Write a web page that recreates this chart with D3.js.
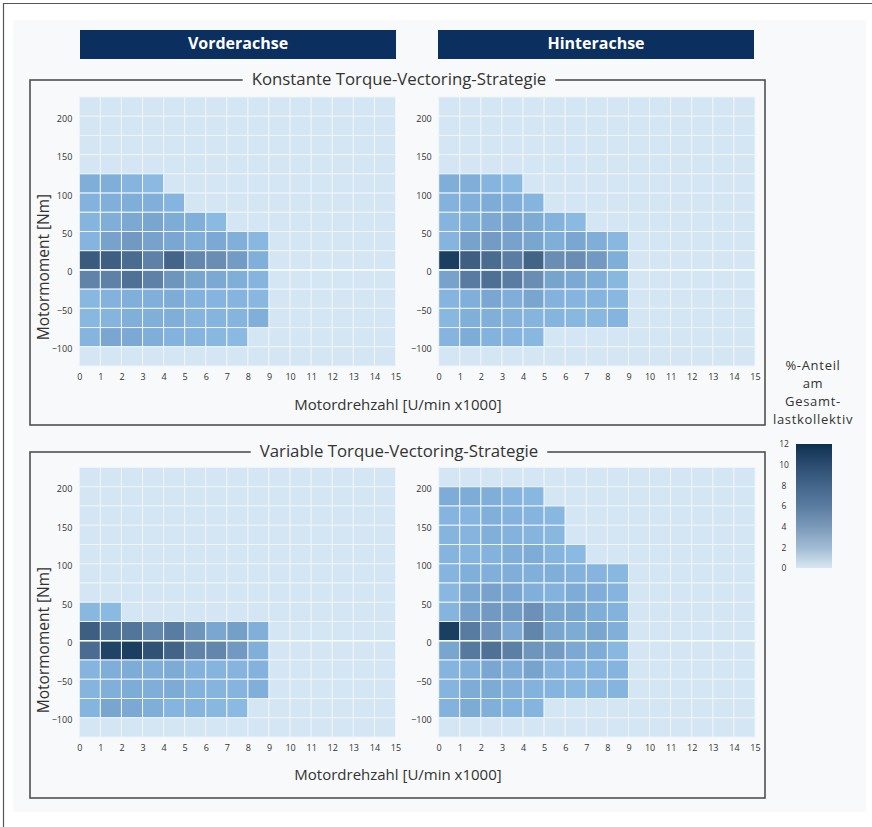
<!DOCTYPE html>
<html><head><meta charset="utf-8">
<script src="https://cdn.jsdelivr.net/npm/d3@7"></script>
<style>
html,body{margin:0;padding:0;background:#fff;}
svg{display:block;}
text{font-family:"Open Sans",sans-serif;}
</style></head>
<body>
<script>
// ---- Data ----
const rpmBins = d3.range(0, 15);              // lower edges of speed bins [x1000 U/min]
const torqueRows = d3.range(200, -150, -25);  // lower edges of torque bins [Nm], top to bottom
const xTicks = d3.range(0, 16);
const yTicks = [-100, -50, 0, 50, 100, 150, 200];
const legendTicks = [0, 2, 4, 6, 8, 10, 12];
const columnTitles = ["Vorderachse", "Hinterachse"];
const groupTitles = ["Konstante Torque-Vectoring-Strategie", "Variable Torque-Vectoring-Strategie"];
const legendTitle = ["%-Anteil", "am", "Gesamt-", "lastkollektiv"];

// % share per cell; each row starts at rpm bin 0, missing cells = 0
const konstantVorne = [
  [], [], [], [],
  [0.9, 0.9, 0.6, 0.4],
  [0.7, 0.8, 0.9, 0.8, 0.6],
  [0.6, 0.9, 1.2, 1.4, 1.0, 0.8, 0.4],
  [0.6, 1.6, 2.2, 1.6, 1.3, 0.9, 1.2, 0.8, 0.5],
  [8.0, 7.5, 6.0, 4.0, 6.8, 3.5, 3.0, 2.0, 0.8],
  [3.8, 4.0, 5.5, 4.0, 2.5, 1.4, 1.2, 0.9, 0.6],
  [0.5, 0.7, 0.8, 0.8, 1.0, 0.7, 0.6, 0.6, 0.5],
  [0.5, 0.6, 0.8, 0.8, 0.9, 0.6, 0.6, 0.6, 0.8],
  [0.6, 1.3, 1.2, 0.9, 0.7, 0.6, 0.5, 0.4],
  []
];
const konstantHinten = [
  [], [], [], [],
  [0.9, 0.9, 0.6, 0.4],
  [0.7, 0.8, 1.0, 0.8, 0.6],
  [0.6, 0.9, 1.2, 1.4, 1.1, 0.7, 0.4],
  [0.6, 1.6, 2.0, 1.6, 1.4, 0.9, 1.3, 0.9, 0.5],
  [11.0, 7.5, 6.0, 4.3, 7.0, 3.0, 3.0, 2.2, 0.9],
  [1.6, 4.5, 5.6, 4.4, 3.0, 1.5, 1.2, 0.9, 0.5],
  [0.6, 0.8, 1.3, 0.9, 1.4, 0.7, 0.6, 0.6, 0.5],
  [0.5, 0.8, 0.8, 0.7, 0.6, 0.6, 0.5, 0.5, 0.6],
  [0.6, 1.0, 0.7, 0.6, 0.5],
  []
];
const variabelVorne = [
  [], [], [], [], [], [],
  [],
  [0.5, 0.4],
  [7.5, 5.2, 5.0, 3.5, 4.4, 2.5, 1.3, 1.8, 0.8],
  [6.0, 10.5, 11.0, 9.0, 7.0, 3.8, 3.6, 2.2, 0.8],
  [0.6, 0.9, 1.0, 0.9, 1.1, 0.7, 0.6, 0.6, 0.7],
  [0.6, 0.8, 1.0, 0.9, 1.1, 0.7, 0.6, 0.6, 0.8],
  [0.6, 1.4, 1.2, 0.9, 0.6, 0.6, 0.5, 0.4],
  []
];
const variabelHinten = [
  [],
  [1.0, 1.0, 0.9, 0.6, 0.5],
  [0.6, 0.6, 0.8, 0.7, 0.6, 0.5],
  [0.6, 0.6, 0.8, 0.7, 0.6, 0.5],
  [0.6, 0.6, 0.7, 0.9, 1.0, 0.6, 0.4],
  [0.6, 0.8, 0.8, 0.9, 0.8, 0.9, 0.7, 0.6, 0.5],
  [0.5, 1.2, 1.6, 1.3, 0.8, 0.7, 1.0, 0.9, 0.6],
  [0.6, 1.7, 2.2, 2.0, 2.8, 1.4, 1.4, 0.9, 0.7],
  [11.0, 4.5, 2.6, 1.2, 3.7, 1.4, 1.1, 1.4, 0.8],
  [1.4, 4.7, 5.5, 4.2, 2.5, 2.0, 1.2, 1.0, 0.5],
  [0.6, 0.8, 1.3, 1.0, 1.5, 0.7, 0.6, 0.6, 0.6],
  [0.6, 1.0, 1.1, 0.8, 0.7, 0.6, 0.5, 0.5, 0.6],
  [0.7, 1.1, 0.8, 0.7, 0.6],
  []
];

const panels = [
  {data: konstantVorne, col: 0, row: 0},
  {data: konstantHinten, col: 1, row: 0},
  {data: variabelVorne, col: 0, row: 1},
  {data: variabelHinten, col: 1, row: 1}
];

// ---- Layout ----
const W = 872, H = 827;
const svg = d3.select("body").append("svg").attr("width", W).attr("height", H);

svg.append("rect").attr("x", 13).attr("y", 20).attr("width", 853).attr("height", 792).attr("fill", "#f8f9fa");
svg.append("path").attr("d", `M3.5,${H}V3.5H${W}`).attr("fill", "none").attr("stroke", "#555").attr("stroke-width", 1.2);

const colX = [[79.3, 395.5], [438.7, 755]];
const rowY = [[366, 97], [737, 467.5]];
const frameY = [[80, 425], [452, 798]];

// Column headers
columnTitles.forEach((t, i) => {
  const x0 = [80, 438][i];
  svg.append("rect").attr("x", x0).attr("y", 30).attr("width", 316).attr("height", 29).attr("fill", "#0b2f5f");
  svg.append("text").attr("x", x0 + 158).attr("y", 45).attr("text-anchor", "middle")
    .attr("dominant-baseline", "middle").attr("fill", "#fff").attr("font-weight", 700)
    .attr("font-size", 16).text(t);
});

// Group frames
groupTitles.forEach((t, i) => {
  const [y0, y1] = frameY[i];
  svg.append("rect").attr("x", 30).attr("y", y0).attr("width", 735).attr("height", y1 - y0)
    .attr("fill", "none").attr("stroke", "#444").attr("stroke-width", 1.5);
  const cx = 399;
  const bg = svg.append("rect").attr("fill", "#f8f9fa");
  const tx = svg.append("text").attr("x", cx).attr("y", y0).attr("text-anchor", "middle")
    .attr("dominant-baseline", "middle").attr("fill", "#333").attr("font-size", 16.8).text(t);
  const w = tx.node().getComputedTextLength();
  bg.attr("x", cx - w / 2 - 9).attr("y", y0 - 4).attr("width", w + 18).attr("height", 8);

  svg.append("text").attr("x", 398).attr("y", [406, 776][i]).attr("text-anchor", "middle")
    .attr("dominant-baseline", "middle").attr("fill", "#333").attr("font-size", 15)
    .text("Motordrehzahl [U/min x1000]");
  svg.append("text").attr("transform", `translate(45,${[267, 640][i]}) rotate(-90)`)
    .attr("text-anchor", "middle").attr("dominant-baseline", "middle").attr("fill", "#333")
    .attr("font-size", 15.5).text("Motormoment [Nm]");
});

// Cell colour scale
const cellColor = d3.scaleLinear()
  .domain([0, 0.3, 0.8, 1.5, 3, 5, 8, 11])
  .range(["#d4e6f3", "#8dbbe4", "#80b0da", "#77a4cd", "#6a8db4", "#52759a", "#3a5b7d", "#1b3f61"]);

panels.forEach(p => {
  const x = d3.scaleLinear().domain([0, 15]).range(colX[p.col]);
  const y = d3.scaleLinear().domain([-125, 225]).range(rowY[p.row]);
  const g = svg.append("g");
  const cells = [];
  torqueRows.forEach((t, ri) => {
    rpmBins.forEach(r => {
      const v = p.data[ri][r] || 0;
      cells.push({r, t, v});
    });
  });
  g.selectAll("rect.cell").data(cells).enter().append("rect")
    .attr("x", d => x(d.r)).attr("y", d => y(d.t + 25))
    .attr("width", d => x(d.r + 1) - x(d.r)).attr("height", d => y(d.t) - y(d.t + 25))
    .attr("fill", d => cellColor(d.v))
    .attr("stroke", "#eef4f9").attr("stroke-width", 1);
  // emphasised zero line
  g.append("line").attr("x1", x(0)).attr("x2", x(15)).attr("y1", y(0)).attr("y2", y(0))
    .attr("stroke", "#fafcfe").attr("stroke-width", 1.6);

  // axes
  const xa = svg.append("g").attr("transform", `translate(0,${rowY[p.row][0]})`)
    .call(d3.axisBottom(x).tickValues(xTicks).tickSize(0).tickPadding(8).tickFormat(d3.format("d")));
  xa.select(".domain").remove();
  xa.selectAll("text").attr("font-family", "DejaVu Sans, sans-serif").attr("font-size", 9).attr("fill", "#333");
  const ya = svg.append("g").attr("transform", `translate(${colX[p.col][0]},0)`)
    .call(d3.axisLeft(y).tickValues(yTicks).tickSize(0).tickPadding(7).tickFormat(d3.format("d")));
  ya.select(".domain").remove();
  ya.selectAll("text").attr("font-family", "DejaVu Sans, sans-serif").attr("font-size", 9).attr("fill", "#333")
    .attr("dy", "0.55em");
});

// Legend
legendTitle.forEach((t, i) => {
  svg.append("text").attr("x", 813).attr("y", 367 + i * 17.9).attr("text-anchor", "middle")
    .attr("dominant-baseline", "middle").attr("fill", "#333").attr("font-size", 13)
    .attr("letter-spacing", 0.7).text(t);
});
const legendScale = d3.scaleLinear().domain([0, 12]).range([568, 444]);
const legendColor = d3.scaleLinear().domain([0, 2, 4, 6, 8, 10, 12])
  .range(["#d8e7f3", "#9fbad3", "#7a99b9", "#5a7ca0", "#43658a", "#2b4c6f", "#0f2f4f"]);
const defs = svg.append("defs");
const grad = defs.append("linearGradient").attr("id", "lg").attr("x1", 0).attr("x2", 0).attr("y1", 1).attr("y2", 0);
d3.range(0, 12.01, 1).forEach(v => {
  grad.append("stop").attr("offset", v / 12).attr("stop-color", legendColor(v));
});
svg.append("rect").attr("x", 796).attr("y", legendScale(12)).attr("width", 36)
  .attr("height", legendScale(0) - legendScale(12)).attr("fill", "url(#lg)");
const la = svg.append("g").attr("transform", "translate(790,0)")
  .call(d3.axisLeft(legendScale).tickValues(legendTicks).tickSize(0).tickPadding(0));
la.select(".domain").remove();
la.selectAll("text").attr("font-family", "DejaVu Sans, sans-serif").attr("font-size", 8.5).attr("fill", "#333")
  .attr("text-anchor", "middle").attr("x", -6);
</script>
</body></html>
